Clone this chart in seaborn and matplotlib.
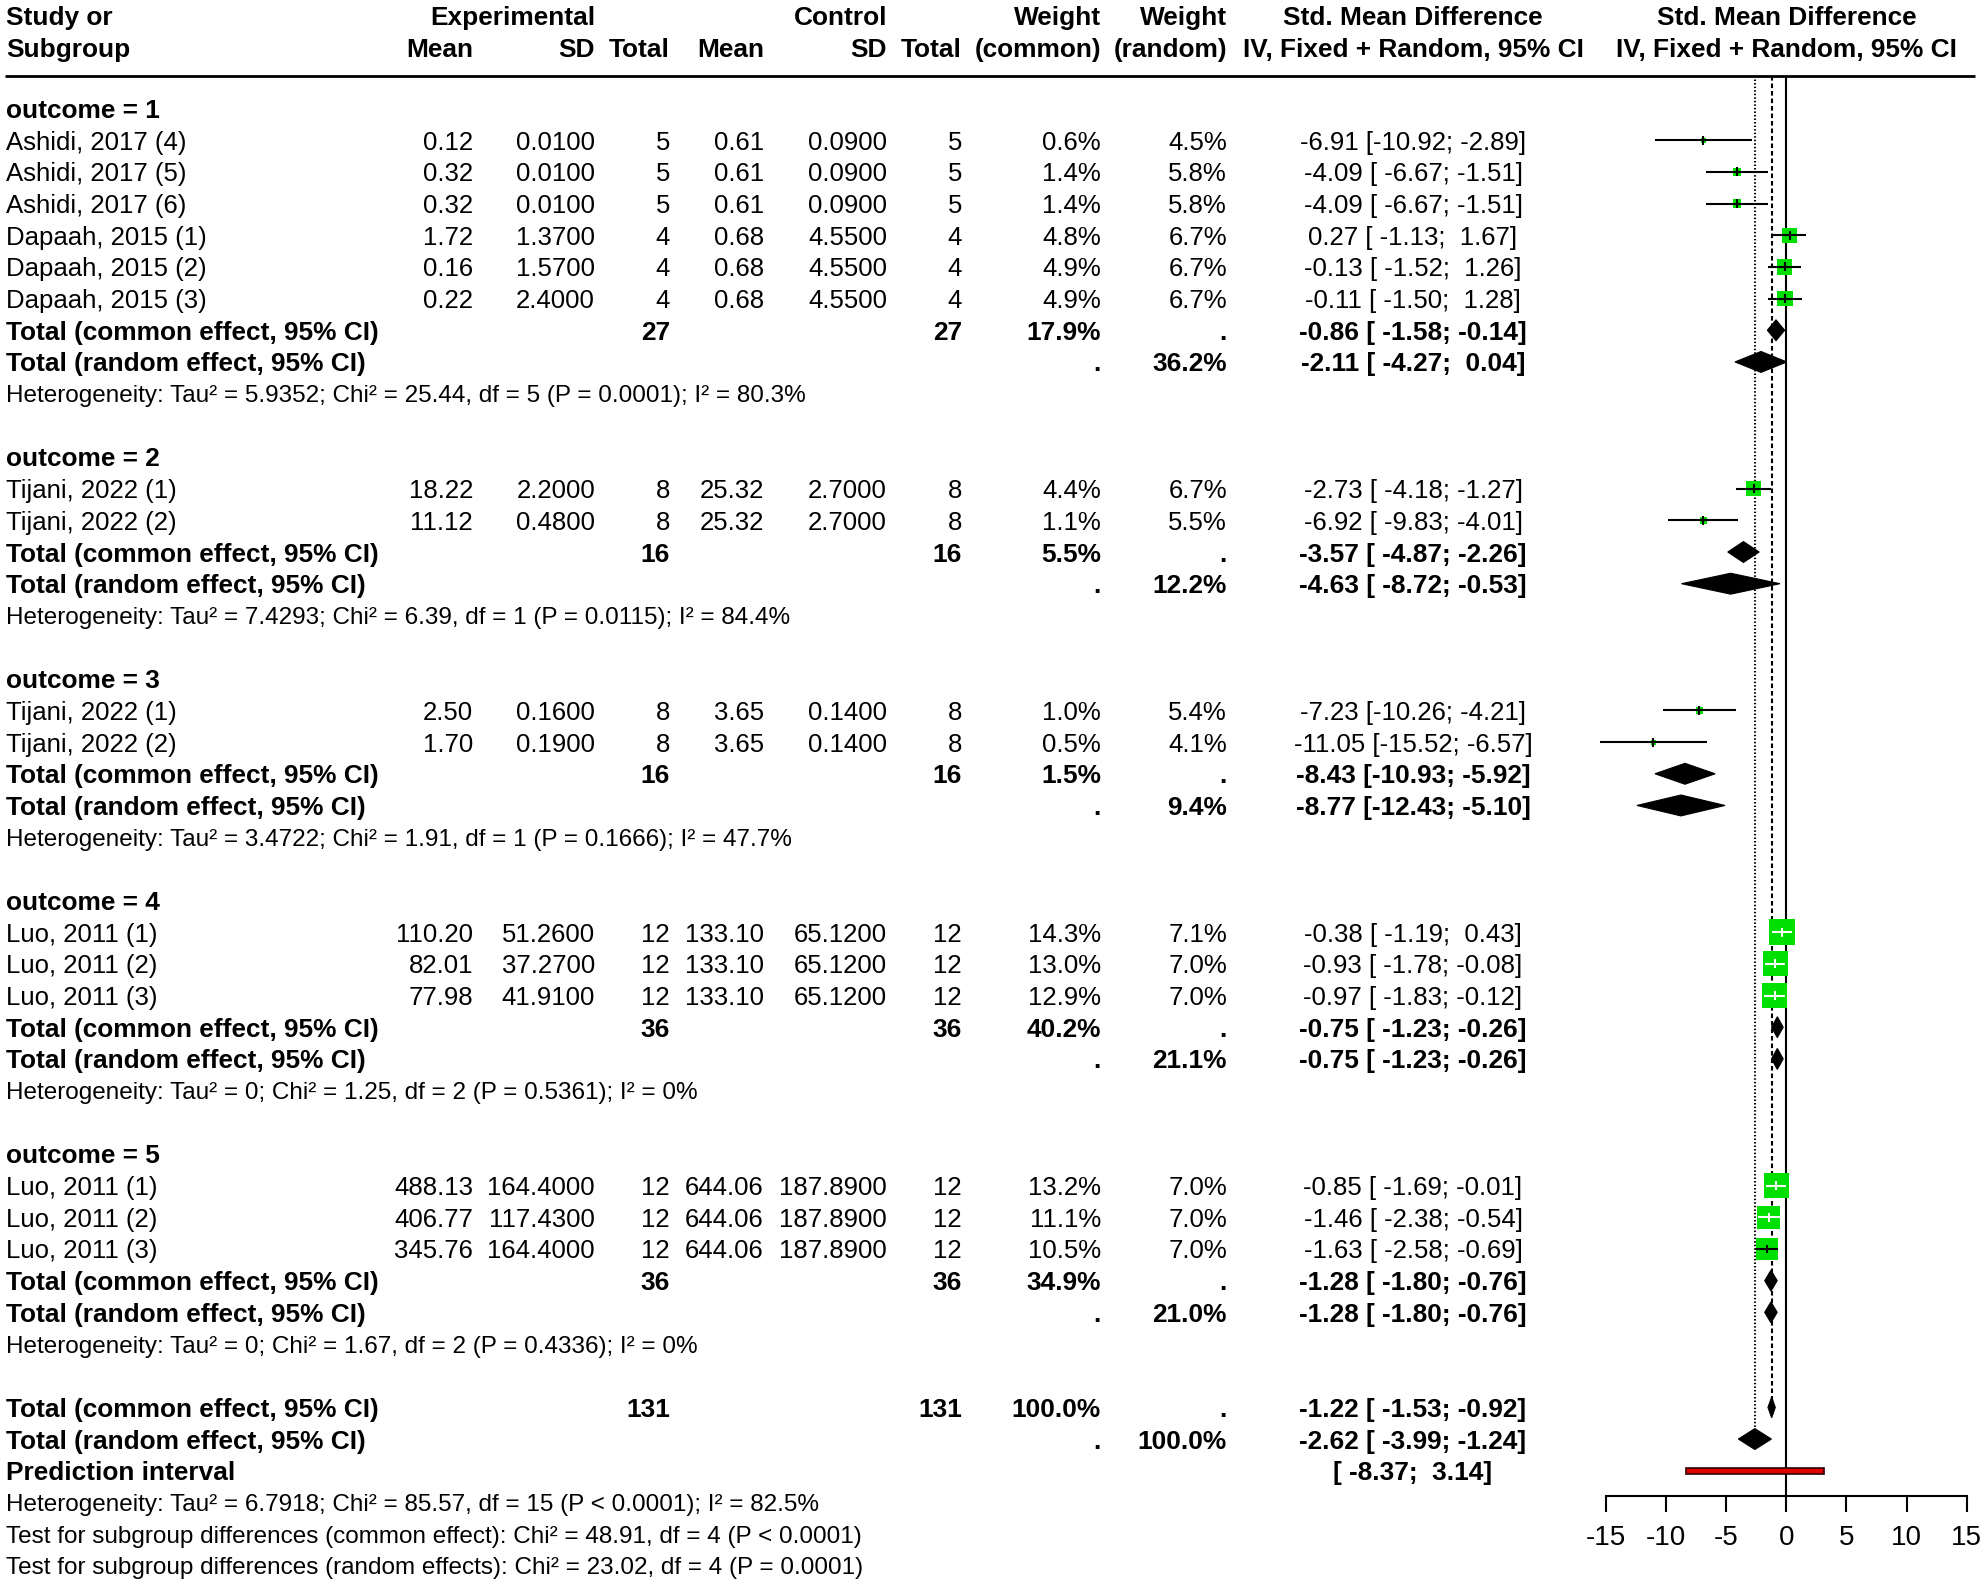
import numpy as np
import matplotlib
matplotlib.use("Agg")
import matplotlib.pyplot as plt
import seaborn as sns
import pandas as pd
from matplotlib.patches import Polygon, Rectangle

# ---------------- data ----------------
study_labels = ["Ashidi, 2017 (4)", "Ashidi, 2017 (5)", "Ashidi, 2017 (6)",
                "Dapaah, 2015 (1)", "Dapaah, 2015 (2)", "Dapaah, 2015 (3)",
                "Tijani, 2022 (1)", "Tijani, 2022 (2)",
                "Tijani, 2022 (1)", "Tijani, 2022 (2)",
                "Luo, 2011 (1)", "Luo, 2011 (2)", "Luo, 2011 (3)",
                "Luo, 2011 (1)", "Luo, 2011 (2)", "Luo, 2011 (3)"]
study_group = [1, 1, 1, 1, 1, 1, 2, 2, 3, 3, 4, 4, 4, 5, 5, 5]
exp_mean = [0.12, 0.32, 0.32, 1.72, 0.16, 0.22, 18.22, 11.12, 2.50, 1.70,
            110.20, 82.01, 77.98, 488.13, 406.77, 345.76]
exp_sd = [0.01, 0.01, 0.01, 1.37, 1.57, 2.40, 2.20, 0.48, 0.16, 0.19,
          51.26, 37.27, 41.91, 164.40, 117.43, 164.40]
exp_n = [5, 5, 5, 4, 4, 4, 8, 8, 8, 8, 12, 12, 12, 12, 12, 12]
ctl_mean = [0.61, 0.61, 0.61, 0.68, 0.68, 0.68, 25.32, 25.32, 3.65, 3.65,
            133.10, 133.10, 133.10, 644.06, 644.06, 644.06]
ctl_sd = [0.09, 0.09, 0.09, 4.55, 4.55, 4.55, 2.70, 2.70, 0.14, 0.14,
          65.12, 65.12, 65.12, 187.89, 187.89, 187.89]
ctl_n = [5, 5, 5, 4, 4, 4, 8, 8, 8, 8, 12, 12, 12, 12, 12, 12]
w_common = [0.6, 1.4, 1.4, 4.8, 4.9, 4.9, 4.4, 1.1, 1.0, 0.5,
            14.3, 13.0, 12.9, 13.2, 11.1, 10.5]
w_random = [4.5, 5.8, 5.8, 6.7, 6.7, 6.7, 6.7, 5.5, 5.4, 4.1,
            7.1, 7.0, 7.0, 7.0, 7.0, 7.0]
smd = [-6.91, -4.09, -4.09, 0.27, -0.13, -0.11, -2.73, -6.92, -7.23, -11.05,
       -0.38, -0.93, -0.97, -0.85, -1.46, -1.63]
smd_lo = [-10.92, -6.67, -6.67, -1.13, -1.52, -1.50, -4.18, -9.83, -10.26, -15.52,
          -1.19, -1.78, -1.83, -1.69, -2.38, -2.58]
smd_hi = [-2.89, -1.51, -1.51, 1.67, 1.26, 1.28, -1.27, -4.01, -4.21, -6.57,
          0.43, -0.08, -0.12, -0.01, -0.54, -0.69]

groups = [1, 2, 3, 4, 5]
grp_n_exp = [27, 16, 16, 36, 36]
grp_n_ctl = [27, 16, 16, 36, 36]
grp_w_common = [17.9, 5.5, 1.5, 40.2, 34.9]
grp_w_random = [36.2, 12.2, 9.4, 21.1, 21.0]
grp_ce = [-0.86, -3.57, -8.43, -0.75, -1.28]
grp_ce_lo = [-1.58, -4.87, -10.93, -1.23, -1.80]
grp_ce_hi = [-0.14, -2.26, -5.92, -0.26, -0.76]
grp_re = [-2.11, -4.63, -8.77, -0.75, -1.28]
grp_re_lo = [-4.27, -8.72, -12.43, -1.23, -1.80]
grp_re_hi = [0.04, -0.53, -5.10, -0.26, -0.76]
grp_tau2 = ["5.9352", "7.4293", "3.4722", "0", "0"]
grp_chi2 = [25.44, 6.39, 1.91, 1.25, 1.67]
grp_df = [5, 1, 1, 2, 2]
grp_p = ["= 0.0001", "= 0.0115", "= 0.1666", "= 0.5361", "= 0.4336"]
grp_i2 = ["80.3%", "84.4%", "47.7%", "0%", "0%"]

total_n = [131, 131]
total_ce = [-1.22, -1.53, -0.92]
total_re = [-2.62, -3.99, -1.24]
pred_int = [-8.37, 3.14]
total_het = ["6.7918", 85.57, 15, "< 0.0001", "82.5%"]
subgrp_test_common = [48.91, 4, "< 0.0001"]
subgrp_test_random = [23.02, 4, "= 0.0001"]
x_ticks = [-15, -10, -5, 0, 5, 10, 15]

# ---------------- style ----------------
sns.set_theme(style="white")
plt.rcParams['font.family'] = ['Liberation Sans', 'DejaVu Sans']
plt.rcParams['axes.unicode_minus'] = False

W, H = 1985, 1585
DPI = 100
ROW0, ROWH = 108.5, 31.68
YMIN = -ROW0 / ROWH
YMAX = (H - ROW0) / ROWH
FS = 18.5
FS_BOLD = 18.9
FS_HET = 17.5
GREEN = "#00e000"

fig = plt.figure(figsize=(W / DPI, H / DPI), dpi=DPI)
fig.patch.set_facecolor("white")
ax_t = fig.add_axes([0, 0, 1, 1])
ax_t.set_xlim(0, W)
ax_t.set_ylim(YMAX, YMIN)
ax_t.axis("off")

X0_AX, X1_AX = 1606, 1966.7
fa = fig.add_axes([X0_AX / W, 0, (X1_AX - X0_AX) / W, 1])
fa.set_xlim(-15, 15)
fa.set_ylim(YMAX, YMIN)
fa.patch.set_visible(False)

# column positions (pixels)
C_LAB = 6
C_EM, C_ESD, C_EN = 473, 595, 670
C_CM, C_CSD, C_CN = 764, 887, 962
C_WC, C_WR = 1101, 1227
C_SMD = 1413


def txt(x, k, s, ha="right", bold=False, fs=None):
    if fs is None:
        fs = FS_BOLD if bold else FS
    ax_t.text(x, k, s, ha=ha, va="center_baseline", fontsize=fs,
              fontweight="bold" if bold else "normal", color="black")


def smd_str(e, l, h):
    return f"{e:.2f} [{l:6.2f}; {h:5.2f}]"


# header
HK1, HK2 = -2.93, -1.93
txt(C_LAB, HK1, "Study or", ha="left", bold=True)
txt(C_LAB, HK2, "Subgroup", ha="left", bold=True)
txt(C_ESD, HK1, "Experimental", bold=True)
txt(C_CSD, HK1, "Control", bold=True)
for x, s in [(C_EM, "Mean"), (C_ESD, "SD"), (C_EN, "Total"),
             (C_CM, "Mean"), (C_CSD, "SD"), (C_CN, "Total")]:
    txt(x, HK2, s, bold=True)
txt(C_WC, HK1, "Weight", bold=True)
txt(C_WC, HK2, "(common)", bold=True)
txt(C_WR, HK1, "Weight", bold=True)
txt(C_WR, HK2, "(random)", bold=True)
txt(C_SMD, HK1, "Std. Mean Difference", ha="center", bold=True)
txt(C_SMD, HK2, "IV, Fixed + Random, 95% CI", ha="center", bold=True)
txt((X0_AX + X1_AX) / 2, HK1, "Std. Mean Difference", ha="center", bold=True)
txt((X0_AX + X1_AX) / 2, HK2, "IV, Fixed + Random, 95% CI", ha="center", bold=True)
LINE_K = -1.04
ax_t.plot([5, 1975], [LINE_K, LINE_K], color="black", lw=2.0, solid_capstyle="butt")

# rows
study_k = []
diamonds = []  # (k, est, lo, hi)
k = 0
for gi, g in enumerate(groups):
    txt(C_LAB, k, f"outcome = {g}", ha="left", bold=True)
    k += 1
    for i in range(len(study_labels)):
        if study_group[i] != g:
            continue
        txt(C_LAB, k, study_labels[i], ha="left")
        txt(C_EM, k, f"{exp_mean[i]:.2f}")
        txt(C_ESD, k, f"{exp_sd[i]:.4f}")
        txt(C_EN, k, f"{exp_n[i]}")
        txt(C_CM, k, f"{ctl_mean[i]:.2f}")
        txt(C_CSD, k, f"{ctl_sd[i]:.4f}")
        txt(C_CN, k, f"{ctl_n[i]}")
        txt(C_WC, k, f"{w_common[i]:.1f}%")
        txt(C_WR, k, f"{w_random[i]:.1f}%")
        txt(C_SMD, k, smd_str(smd[i], smd_lo[i], smd_hi[i]), ha="center")
        study_k.append(k)
        k += 1
    # common
    txt(C_LAB, k, "Total (common effect, 95% CI)", ha="left", bold=True)
    txt(C_EN, k, f"{grp_n_exp[gi]}", bold=True)
    txt(C_CN, k, f"{grp_n_ctl[gi]}", bold=True)
    txt(C_WC, k, f"{grp_w_common[gi]:.1f}%", bold=True)
    txt(C_WR, k, ".", bold=True)
    txt(C_SMD, k, smd_str(grp_ce[gi], grp_ce_lo[gi], grp_ce_hi[gi]), ha="center", bold=True)
    diamonds.append((k, grp_ce[gi], grp_ce_lo[gi], grp_ce_hi[gi]))
    k += 1
    txt(C_LAB, k, "Total (random effect, 95% CI)", ha="left", bold=True)
    txt(C_WC, k, ".", bold=True)
    txt(C_WR, k, f"{grp_w_random[gi]:.1f}%", bold=True)
    txt(C_SMD, k, smd_str(grp_re[gi], grp_re_lo[gi], grp_re_hi[gi]), ha="center", bold=True)
    diamonds.append((k, grp_re[gi], grp_re_lo[gi], grp_re_hi[gi]))
    k += 1
    txt(C_LAB, k, f"Heterogeneity: Tau\u00b2 = {grp_tau2[gi]}; Chi\u00b2 = {grp_chi2[gi]:.2f}, "
                  f"df = {grp_df[gi]} (P {grp_p[gi]}); I\u00b2 = {grp_i2[gi]}",
        ha="left", fs=FS_HET)
    k += 2

# overall
k_tc = k
txt(C_LAB, k, "Total (common effect, 95% CI)", ha="left", bold=True)
txt(C_EN, k, f"{total_n[0]}", bold=True)
txt(C_CN, k, f"{total_n[1]}", bold=True)
txt(C_WC, k, "100.0%", bold=True)
txt(C_WR, k, ".", bold=True)
txt(C_SMD, k, smd_str(*total_ce), ha="center", bold=True)
diamonds.append((k, *total_ce))
k += 1
k_tr = k
txt(C_LAB, k, "Total (random effect, 95% CI)", ha="left", bold=True)
txt(C_WC, k, ".", bold=True)
txt(C_WR, k, "100.0%", bold=True)
txt(C_SMD, k, smd_str(*total_re), ha="center", bold=True)
diamonds.append((k, *total_re))
k += 1
k_pi = k
txt(C_LAB, k, "Prediction interval", ha="left", bold=True)
txt(C_SMD, k, f"[{pred_int[0]:6.2f}; {pred_int[1]:5.2f}]", ha="center", bold=True)
k += 1
txt(C_LAB, k, f"Heterogeneity: Tau\u00b2 = {total_het[0]}; Chi\u00b2 = {total_het[1]:.2f}, "
              f"df = {total_het[2]} (P {total_het[3]}); I\u00b2 = {total_het[4]}",
    ha="left", fs=FS_HET)
k += 1
txt(C_LAB, k, f"Test for subgroup differences (common effect): Chi\u00b2 = {subgrp_test_common[0]:.2f}, "
              f"df = {subgrp_test_common[1]} (P {subgrp_test_common[2]})", ha="left", fs=FS_HET)
k += 1
txt(C_LAB, k, f"Test for subgroup differences (random effects): Chi\u00b2 = {subgrp_test_random[0]:.2f}, "
              f"df = {subgrp_test_random[1]} (P {subgrp_test_random[2]})", ha="left", fs=FS_HET)

# ---------------- forest ----------------
AXIS_K = 43.8
LW = 1.5
fa.vlines(0, LINE_K, AXIS_K, color="black", lw=LW, zorder=1)
fa.vlines(total_ce[0], LINE_K, k_tc, color="black", lw=LW, linestyles=(0, (2.2, 1.4)), zorder=1)
fa.vlines(total_re[0], LINE_K, k_tr, color="black", lw=LW, linestyles=(0, (0.7, 1.0)), zorder=1)

px_per_unit = (X1_AX - X0_AX) / 30.0
MAX_SIDE = 26.0
wmax = max(w_common)
side_px = np.array([MAX_SIDE * np.sqrt(w / wmax) for w in w_common])
df_sq = pd.DataFrame({"smd": smd, "row": study_k, "s": (side_px * 72 / DPI) ** 2})
sns.scatterplot(data=df_sq, x="smd", y="row", s=df_sq["s"].values, marker="s",
                color=GREEN, edgecolor="none", linewidth=0, ax=fa, legend=False,
                zorder=2, clip_on=False)

for i in range(len(smd)):
    hw = side_px[i] / 2 / px_per_unit
    inside = (smd_lo[i] >= smd[i] - hw) and (smd_hi[i] <= smd[i] + hw)
    col = "white" if inside else "black"
    fa.hlines(study_k[i], smd_lo[i], smd_hi[i], color=col, lw=LW, zorder=3, clip_on=False)
    fa.vlines(smd[i], study_k[i] - 0.14, study_k[i] + 0.14, color=col, lw=LW, zorder=3)

DH = 0.33
for (kk, e, l, h) in diamonds:
    fa.add_patch(Polygon([(l, kk), (e, kk - DH), (h, kk), (e, kk + DH)],
                         closed=True, facecolor="black", edgecolor="black", lw=0.8, zorder=3))

fa.add_patch(Rectangle((pred_int[0], k_pi - 0.09), pred_int[1] - pred_int[0], 0.18,
                       facecolor="#e00000", edgecolor="#300000", lw=1.2, zorder=3))

# axis
for sp in ["top", "left", "right"]:
    fa.spines[sp].set_visible(False)
fa.spines["bottom"].set_position(("data", AXIS_K))
fa.spines["bottom"].set_color("black")
fa.spines["bottom"].set_linewidth(LW)
fa.set_xticks(x_ticks)
fa.set_xticklabels([str(t) for t in x_ticks])
fa.set_yticks([])
fa.tick_params(axis="x", direction="out", length=11.5, width=LW, labelsize=20,
               pad=9, colors="black", bottom=True)
fa.set_xlabel("")
fa.set_ylabel("")
fa.grid(False)

fig.savefig("out.png", dpi=DPI, facecolor="white")
